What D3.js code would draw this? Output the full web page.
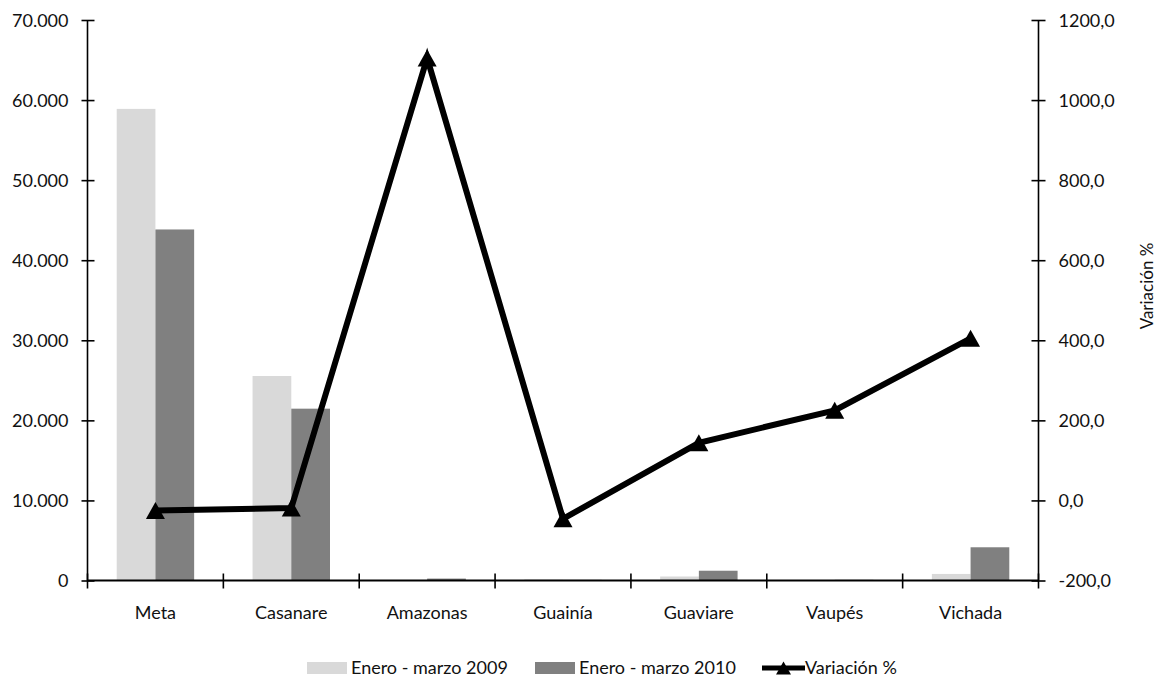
<!DOCTYPE html>
<html><head><meta charset="utf-8">
<script src="https://cdnjs.cloudflare.com/ajax/libs/d3/7.8.5/d3.min.js"></script>
<style>
html,body{margin:0;padding:0;background:#fff;}
svg text{font-family:Lato,"Liberation Sans",sans-serif;fill:#111;}
</style></head>
<body><svg id="c" width="1156" height="679"></svg>
<script>
const categories = ["Meta","Casanare","Amazonas","Guainía","Guaviare","Vaupés","Vichada"];
const serie2009 = [58900, 25540, 20, 140, 500, 25, 820];
const serie2010 = [43840, 21460, 240, 80, 1220, 80, 4150];
const variacion = [-25, -19, 1105, -46, 144, 225, 405];
const leftTicks = [0,10000,20000,30000,40000,50000,60000,70000];
const leftTickLabels = ["0","10.000","20.000","30.000","40.000","50.000","60.000","70.000"];
const rightTicks = [-200,0,200,400,600,800,1000,1200];
const rightTickLabels = ["-200,0","0,0","200,0","400,0","600,0","800,0","1000,0","1200,0"];
const seriesNames = ["Enero - marzo 2009","Enero - marzo 2010"];
const lineName = "Variación %";
const colors = ["#d9d9d9","#808080"];

const svg = d3.select("#c");
const L = 87.5, R = 1038.5, T = 20, B = 580.5;
const x0 = d3.scaleBand().domain(categories).range([L,R]).paddingInner(0.43).paddingOuter(0.215);
const x1 = d3.scaleBand().domain([0,1]).range([0,x0.bandwidth()]);
const xb = d3.scaleBand().domain(categories).range([L,R]); // boundaries
const yL = d3.scaleLinear().domain([0,70000]).range([B,T]);
const yR = d3.scaleLinear().domain([-200,1200]).range([B,T]);

// bars
const data = [serie2009, serie2010];
data.forEach((s,si)=>{
  svg.append("g").selectAll("rect").data(s).join("rect")
    .attr("x",(d,i)=>x0(categories[i])+x1(si))
    .attr("width",x1.bandwidth())
    .attr("y",d=>yL(d))
    .attr("height",d=>B-yL(d))
    .attr("fill",colors[si]);
});

// left axis
const fsz = 18;
const gl = svg.append("g").attr("transform",`translate(${L},0)`)
  .call(d3.axisLeft(yL).tickValues(leftTicks).tickFormat((d,i)=>leftTickLabels[i]).tickSize(6).tickPadding(13));
gl.select(".domain").attr("stroke","#000").attr("stroke-width",1.6).attr("d",`M0,${T}V${B}`);
gl.selectAll(".tick line").attr("x1",-6).attr("x2",7).attr("stroke","#000").attr("stroke-width",1.6);
gl.selectAll(".tick text").style("font-size",fsz+"px").style("font-family","Lato").attr("fill","#111").attr("dy","0.36em");

// right axis
const gr = svg.append("g").attr("transform",`translate(${R},0)`)
  .call(d3.axisRight(yR).tickValues(rightTicks).tickFormat((d,i)=>rightTickLabels[i]).tickSize(7).tickPadding(13));
gr.select(".domain").attr("stroke","#000").attr("stroke-width",1.6).attr("d",`M0,${T}V${B}`);
gr.selectAll(".tick line").attr("x1",-7).attr("x2",7).attr("stroke","#000").attr("stroke-width",1.6);
gr.selectAll(".tick text").style("font-size",fsz+"px").style("font-family","Lato").attr("fill","#111").attr("dy","0.36em");

// x axis
svg.append("line").attr("x1",L).attr("x2",R).attr("y1",B).attr("y2",B).attr("stroke","#000").attr("stroke-width",2.2);
const bounds = categories.map(c=>xb(c)).concat([R]);
svg.append("g").selectAll("line").data(bounds).join("line")
  .attr("x1",d=>d).attr("x2",d=>d).attr("y1",B-7).attr("y2",B+8).attr("stroke","#000").attr("stroke-width",1.6);
svg.append("g").selectAll("text").data(categories).join("text")
  .attr("x",d=>xb(d)+xb.bandwidth()/2).attr("y",619).attr("text-anchor","middle")
  .style("font-size",fsz+"px").text(d=>d);

// right title
svg.append("text").attr("transform","translate(1147,286) rotate(-90)").attr("text-anchor","middle")
  .attr("dy","0.36em").style("font-size","17px").text(lineName);

// line
const cx = (d,i)=>xb(categories[i])+xb.bandwidth()/2;
svg.append("path").datum(variacion)
  .attr("d",d3.line().x(cx).y(d=>yR(d)))
  .attr("fill","none").attr("stroke","#000").attr("stroke-width",6).attr("stroke-linejoin","miter");
const tri = "M0,-8.5L9.5,8.5L-9.5,8.5Z";
svg.append("g").selectAll("path").data(variacion).join("path")
  .attr("d",tri).attr("transform",(d,i)=>`translate(${cx(d,i)},${yR(d)})`).attr("fill","#000");

// legend
const ly = 668;
const leg = [{x:307,w:40,c:colors[0],t:seriesNames[0]},{x:535,w:40,c:colors[1],t:seriesNames[1]}];
leg.forEach(l=>{
  svg.append("rect").attr("x",l.x).attr("y",ly-6).attr("width",l.w).attr("height",12).attr("fill",l.c);
  svg.append("text").attr("x",l.x+l.w+4).attr("y",ly).attr("dy","0.36em").style("font-size",fsz+"px").text(l.t);
});
svg.append("line").attr("x1",762).attr("x2",805).attr("y1",ly).attr("y2",ly).attr("stroke","#000").attr("stroke-width",5);
svg.append("path").attr("d","M0,-6.5L7.5,6.5L-7.5,6.5Z").attr("transform",`translate(783.5,${ly})`).attr("fill","#000");
svg.append("text").attr("x",805).attr("y",ly).attr("dy","0.36em").style("font-size",fsz+"px").text(lineName);
</script>
</body></html>
